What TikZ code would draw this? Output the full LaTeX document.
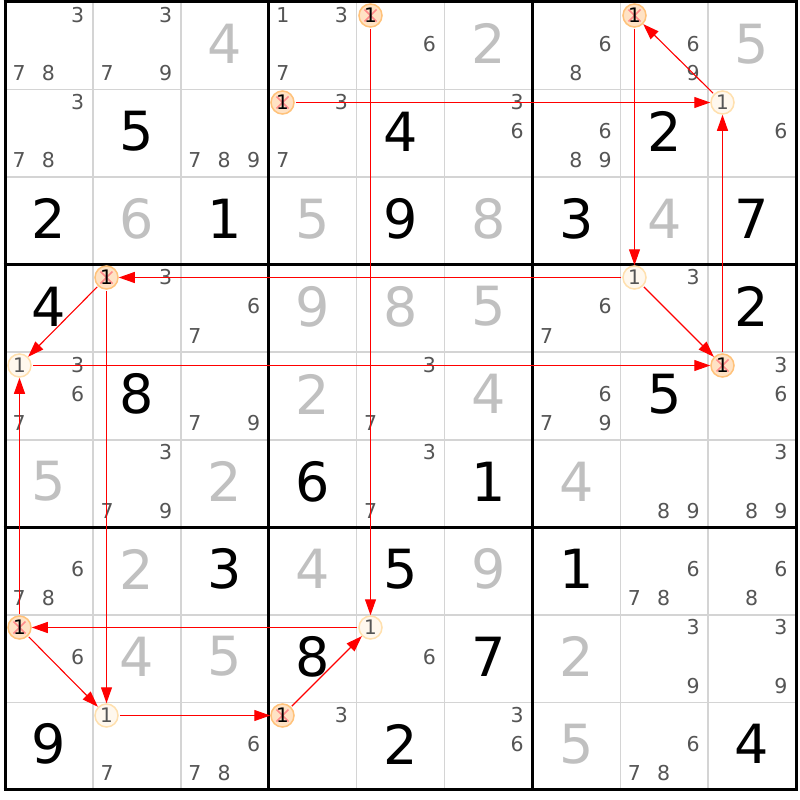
\documentclass[tikz,border=0pt]{standalone}
\usepackage{fontspec}
\setmainfont{DejaVu Sans}
\usetikzlibrary{arrows.meta}
\definecolor{pencilcol}{HTML}{555555}
\definecolor{solvedcol}{HTML}{C0C0C0}
\definecolor{thincol}{HTML}{D4D4D4}
\definecolor{elimdraw}{HTML}{FFC27A}
\definecolor{elimfill}{HTML}{FFE2C4}
\definecolor{normdraw}{HTML}{FFE0AE}
\definecolor{normfill}{HTML}{FFF8EE}
\definecolor{xcol}{HTML}{FF8A8A}
\definecolor{linkcol}{HTML}{FF0000}
\def\cw{87.9}
\def\ch{87.55}
\tikzset{
  pencil/.style={inner sep=0pt, text=pencilcol, font=\fontsize{20.5}{20.5}\selectfont},
  givenst/.style={inner sep=0pt, text=black, font=\fontsize{54}{54}\selectfont},
  solvedst/.style={inner sep=0pt, text=solvedcol, font=\fontsize{54}{54}\selectfont},
  elim/.style={circle, inner sep=0pt, minimum size=23pt, draw=elimdraw, line width=1.5pt, fill=elimfill,
    text=black, font=\fontsize{20}{20}\selectfont,
    path picture={\draw[xcol, line width=1.7pt] ([shift={(-6,-6)}]path picture bounding box.center) -- ([shift={(6,6)}]path picture bounding box.center)
      ([shift={(-6,6)}]path picture bounding box.center) -- ([shift={(6,-6)}]path picture bounding box.center);}},
  norm/.style={circle, inner sep=0pt, minimum size=23pt, draw=normdraw, line width=1.5pt, fill=normfill,
    text=pencilcol, font=\fontsize{20}{20}\selectfont},
  link/.style={draw=linkcol, line width=1.1pt, shorten <=1pt, -{Triangle[length=16pt,width=11pt]}},
  thinline/.style={draw=thincol, line width=1.5pt},
  thickline/.style={draw=black, line width=3pt},
}
\newcommand\pencil[3]{%
  \foreach \k in {#3}{%
    \pgfmathsetmacro\px{5+(#2-1)*\cw+(mod(\k-1,3)+0.5)*\cw/3-0.5}%
    \pgfmathsetmacro\py{2+(#1-1)*\ch+(floor((\k-1)/3)+0.5)*\ch/3-2}%
    \node[pencil] (p#1#2\k) at (\px,\py) {\k};
  }}
\newcommand\given[3]{\node[givenst] (g#1#2) at ({5+(#2-0.5)*\cw},{2+(#1-0.5)*\ch-2}) {#3};}
\newcommand\solved[3]{\node[solvedst] (s#1#2) at ({5+(#2-0.5)*\cw},{2+(#1-0.5)*\ch-2}) {#3};}
\newcommand\cand[3]{%
  \pgfmathsetmacro\cx{floor(5+(#2-1)*\cw+14)+0.5}%
  \pgfmathsetmacro\cy{floor(2+(#1-1)*\ch+13)+0.5}%
  \node[#3] (c#1#2) at (\cx,\cy) {1};}
\begin{document}
\begin{tikzpicture}[x=1pt,y=-1pt]
\useasboundingbox (0,0) rectangle (800,800);
\fill[white] (0,0) rectangle (800,800);
% thin lines
\foreach \i in {1,2,4,5,7,8}{
  \draw[thinline] ({5+\i*\cw},2) -- ({5+\i*\cw},{2+9*\ch});
  \draw[thinline] (5,{2+\i*\ch}) -- ({5+9*\cw},{2+\i*\ch});
}
\foreach \i in {0,3,6,9}{
  \draw[thickline] ({5+\i*\cw},0.5) -- ({5+\i*\cw},{3.5+9*\ch});
  \draw[thickline] (3.5,{2+\i*\ch}) -- ({6.5+9*\cw},{2+\i*\ch});
}
% row 1
\pencil{1}{1}{3,7,8} \pencil{1}{2}{3,7,9} \solved{1}{3}{4} \pencil{1}{4}{1,3,7}
\pencil{1}{5}{6} \solved{1}{6}{2} \pencil{1}{7}{6,8} \pencil{1}{8}{6,9} \solved{1}{9}{5}
% row 2
\pencil{2}{1}{3,7,8} \given{2}{2}{5} \pencil{2}{3}{7,8,9} \pencil{2}{4}{3,7} \given{2}{5}{4}
\pencil{2}{6}{3,6} \pencil{2}{7}{6,8,9} \given{2}{8}{2} \pencil{2}{9}{6}
% row 3
\given{3}{1}{2} \solved{3}{2}{6} \given{3}{3}{1} \solved{3}{4}{5} \given{3}{5}{9}
\solved{3}{6}{8} \given{3}{7}{3} \solved{3}{8}{4} \given{3}{9}{7}
% row 4
\given{4}{1}{4} \pencil{4}{2}{3} \pencil{4}{3}{6,7} \solved{4}{4}{9} \solved{4}{5}{8}
\solved{4}{6}{5} \pencil{4}{7}{6,7} \pencil{4}{8}{3} \given{4}{9}{2}
% row 5
\pencil{5}{1}{3,6,7} \given{5}{2}{8} \pencil{5}{3}{7,9} \solved{5}{4}{2} \pencil{5}{5}{3,7}
\solved{5}{6}{4} \pencil{5}{7}{6,7,9} \given{5}{8}{5} \pencil{5}{9}{3,6}
% row 6
\solved{6}{1}{5} \pencil{6}{2}{3,7,9} \solved{6}{3}{2} \given{6}{4}{6} \pencil{6}{5}{3,7}
\given{6}{6}{1} \solved{6}{7}{4} \pencil{6}{8}{8,9} \pencil{6}{9}{3,8,9}
% row 7
\pencil{7}{1}{6,7,8} \solved{7}{2}{2} \given{7}{3}{3} \solved{7}{4}{4} \given{7}{5}{5}
\solved{7}{6}{9} \given{7}{7}{1} \pencil{7}{8}{6,7,8} \pencil{7}{9}{6,8}
% row 8
\pencil{8}{1}{6} \solved{8}{2}{4} \solved{8}{3}{5} \given{8}{4}{8} \pencil{8}{5}{6}
\given{8}{6}{7} \solved{8}{7}{2} \pencil{8}{8}{3,9} \pencil{8}{9}{3,9}
% row 9
\given{9}{1}{9} \pencil{9}{2}{7} \pencil{9}{3}{6,7,8} \pencil{9}{4}{3} \given{9}{5}{2}
\pencil{9}{6}{3,6} \solved{9}{7}{5} \pencil{9}{8}{6,7,8} \given{9}{9}{4}
% candidates
\cand{1}{5}{elim} \cand{1}{8}{elim} \cand{2}{4}{elim} \cand{2}{9}{norm}
\cand{4}{2}{elim} \cand{4}{8}{norm} \cand{5}{1}{norm} \cand{5}{9}{elim}
\cand{8}{1}{elim} \cand{8}{5}{norm} \cand{9}{2}{norm} \cand{9}{4}{elim}
% links
\draw[link] (c15) -- (c85);
\draw[link] (c24) -- (c29);
\draw[link] (c29) -- (c18);
\draw[link] (c18) -- (c48);
\draw[link] (c48) -- (c42);
\draw[link] (c48) -- (c59);
\draw[link] (c59) -- (c29);
\draw[link] (c51) -- (c59);
\draw[link] (c42) -- (c51);
\draw[link] (c42) -- (c92);
\draw[link] (c81) -- (c51);
\draw[link] (c85) -- (c81);
\draw[link] (c81) -- (c92);
\draw[link] (c92) -- (c94);
\draw[link] (c94) -- (c85);
\end{tikzpicture}
\end{document}
